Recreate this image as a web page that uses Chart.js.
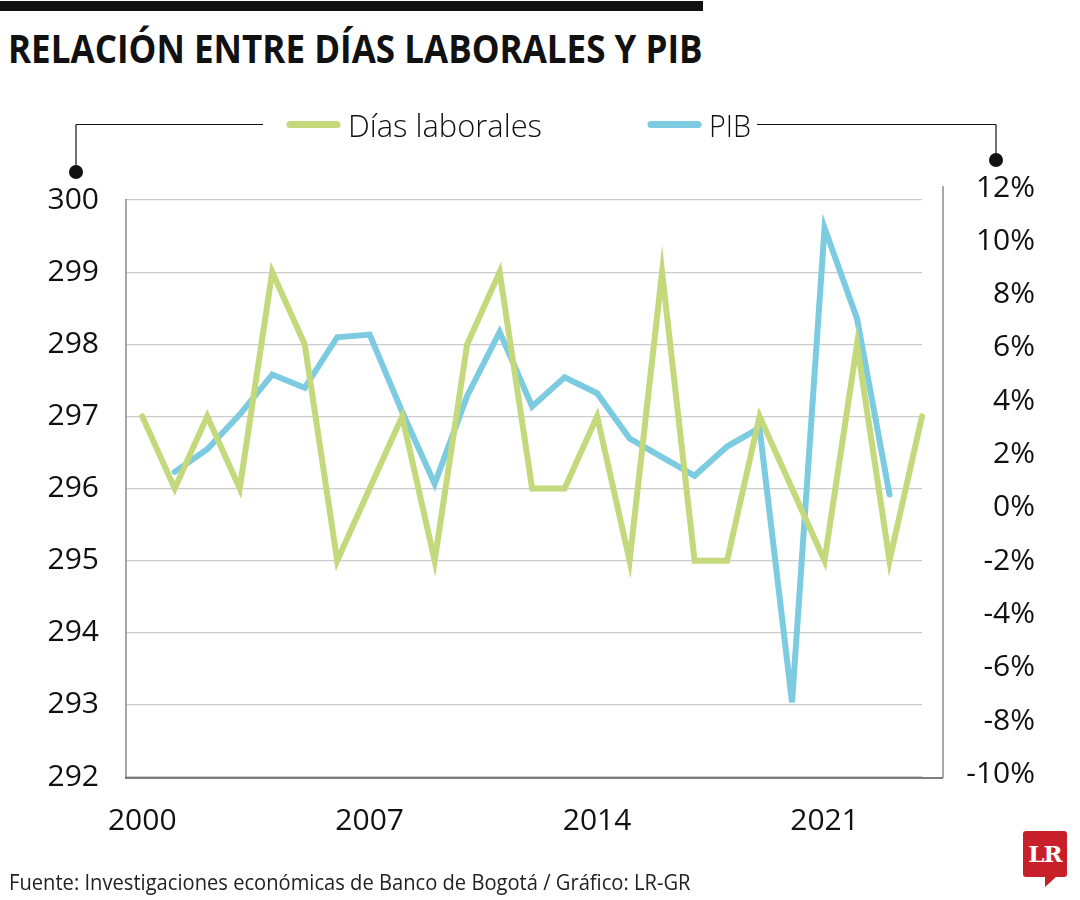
<!DOCTYPE html>
<html>
<head>
<meta charset="utf-8">
<script src="https://cdn.jsdelivr.net/npm/chart.js@4.4.1/dist/chart.umd.min.js"></script>
<style>
  body { margin: 0; background: #fff; }
  #wrap { position: relative; width: 1080px; height: 900px; overflow: hidden; background: #fff; }
  #bar { position: absolute; left: 0; top: 1px; width: 703px; height: 10px; background: #111; }
  #title { position: absolute; left: 8px; top: 28px; font: 700 40px/40px "Liberation Sans Narrow", "Open Sans", sans-serif;
           color: #111; white-space: nowrap; transform-origin: 0 0; }
  #chart { position: absolute; left: 0; top: 0; }
  #fuente { position: absolute; left: 9px; top: 872px; font: 400 21px/21px "Open Sans", sans-serif; color: #222;
            white-space: nowrap; transform-origin: 0 0; }
  #logo { position: absolute; left: 1023px; top: 831px; width: 44px; height: 46px; background: #c8202b; border-radius: 3px;
          color: #fff; font: 700 23px/46px "DejaVu Serif", "Liberation Serif", serif; text-align: center; letter-spacing: -1px; }
  #logo:after { content: ""; position: absolute; left: 22px; top: 46px; border-top: 10px solid #c8202b; border-right: 11px solid transparent; }
</style>
</head>
<body>
<div id="wrap">
  <div id="bar"></div>
  <div id="title">RELACIÓN ENTRE DÍAS LABORALES Y PIB</div>
  <canvas id="chart" width="1080" height="900"></canvas>
  <div id="fuente">Fuente: Investigaciones económicas de Banco de Bogotá / Gráfico: LR-GR</div>
  <div id="logo">LR</div>
</div>
<script>
const years = [2000, 2001, 2002, 2003, 2004, 2005, 2006, 2007, 2008, 2009, 2010, 2011, 2012,
               2013, 2014, 2015, 2016, 2017, 2018, 2019, 2020, 2021, 2022, 2023, 2024];
const diasLaborales = [297, 296, 297, 296, 299, 298, 295, 296, 297, 295, 298, 299, 296,
                       296, 297, 295, 299, 295, 295, 297, 296, 295, 298, 295, 297];
const pib = [null, 1.35, 2.2, 3.5, 5.0, 4.5, 6.4, 6.5, 3.6, 0.9, 4.2, 6.6, 3.8,
             4.9, 4.3, 2.6, 1.9, 1.2, 2.3, 3.0, -7.3, 10.5, 7.1, 0.5, null];
const xTicks = [2000, 2007, 2014, 2021];
const leftTicks = [292, 293, 294, 295, 296, 297, 298, 299, 300];
const rightTicks = [-10, -8, -6, -4, -2, 0, 2, 4, 6, 8, 10, 12];

function fitWidth(id, w) {
  const el = document.getElementById(id);
  el.style.transform = "scaleX(" + (w / el.offsetWidth) + ")";
}
fitWidth("title", 695);
fitWidth("fuente", 682);

Chart.defaults.font.family = "'Open Sans', sans-serif";
Chart.defaults.color = "#111";

// legend, frame and the little connector lines with dots
const decor = {
  id: "decor",
  afterDraw(chart) {
    const { ctx, chartArea: a } = chart;
    const line = (x1, y1, x2, y2) => { ctx.beginPath(); ctx.moveTo(x1, y1); ctx.lineTo(x2, y2); ctx.stroke(); };
    ctx.save();
    ctx.lineWidth = 1.5;
    ctx.strokeStyle = "#8c8c8c";
    line(a.left, a.top - 1, a.left, a.bottom + 1);
    line(a.right + 21, 186, a.right + 21, a.bottom + 1);
    ctx.strokeStyle = "#555";
    line(a.left - 1, a.bottom + 1, a.right + 21, a.bottom + 1);

    ctx.lineWidth = 1.2;
    ctx.strokeStyle = "#111";
    line(76, 124.5, 263, 124.5);
    line(76, 124.5, 76, 170);
    line(757, 124.5, 996, 124.5);
    line(996, 124.5, 996, 158);
    ctx.fillStyle = "#111";
    [[76, 172], [996, 160]].forEach(p => { ctx.beginPath(); ctx.arc(p[0], p[1], 7, 0, Math.PI * 2); ctx.fill(); });

    const lx = [287, 648], tw = [194, 42];
    chart.data.datasets.forEach((ds, i) => {
      ctx.strokeStyle = ds.borderColor;
      ctx.lineWidth = 7;
      ctx.lineCap = "round";
      line(lx[i] + 3, 124.5, lx[i] + 50, 124.5);
      ctx.fillStyle = "#111";
      ctx.font = "300 32px 'Open Sans', sans-serif";
      ctx.textBaseline = "alphabetic";
      ctx.fillText(ds.label, lx[i] + 61, 137, tw[i]);
    });
    ctx.restore();
  }
};

new Chart(document.getElementById("chart"), {
  type: "line",
  data: {
    datasets: [
      {
        label: "Días laborales",
        data: years.map((y, i) => ({ x: y, y: diasLaborales[i] })),
        borderColor: "#c3d97c",
        borderWidth: 6,
        clip: 8,
        yAxisID: "y",
      },
      {
        label: "PIB",
        data: years.map((y, i) => ({ x: y, y: pib[i] })),
        borderColor: "#7ccbe1",
        borderWidth: 6,
        clip: 8,
        yAxisID: "y1",
      },
    ],
  },
  options: {
    responsive: false,
    animation: false,
    layout: { padding: { top: 200, left: 0, right: 45, bottom: 63 } },
    elements: {
      point: { radius: 0 },
      line: { tension: 0, borderJoinStyle: "miter", borderCapStyle: "round" },
    },
    plugins: { legend: { display: false }, tooltip: { enabled: false } },
    scales: {
      x: {
        type: "linear",
        min: 1999.5,
        max: 2024,
        afterBuildTicks: s => { s.ticks = xTicks.map(v => ({ value: v })); },
        afterFit: s => { s.height = 60; },
        grid: { display: false, drawTicks: false },
        border: { display: false },
        ticks: { autoSkip: false, maxRotation: 0, padding: 26, font: { size: 30 }, callback: v => String(v) },
      },
      y: {
        position: "left",
        min: 292,
        max: 300,
        afterBuildTicks: s => { s.ticks = leftTicks.map(v => ({ value: v })); },
        afterFit: s => { s.width = 126; },
        grid: { color: "#cccccc", lineWidth: 1.2, drawTicks: false },
        border: { display: false },
        ticks: { padding: 27, font: { size: 30 }, callback: v => String(v) },
      },
      y1: {
        position: "right",
        min: -10.1,
        max: 11.55,
        afterBuildTicks: s => { s.ticks = rightTicks.map(v => ({ value: v })); },
        afterFit: s => { s.width = 113; },
        grid: { display: false, drawTicks: false },
        border: { display: false },
        ticks: { autoSkip: false, crossAlign: "far", font: { size: 30 }, callback: v => v + "%" },
      },
    },
  },
  plugins: [decor],
});
</script>
</body>
</html>
